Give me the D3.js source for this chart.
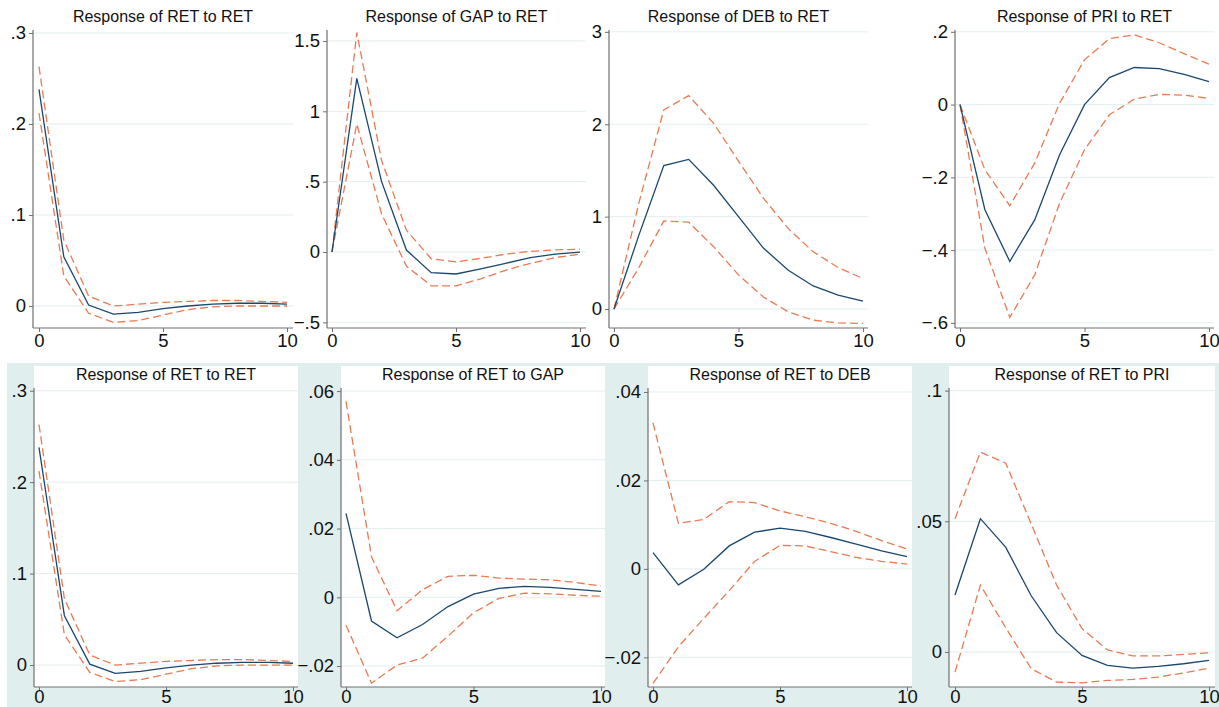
<!DOCTYPE html>
<html>
<head>
<meta charset="utf-8">
<script src="https://cdn.jsdelivr.net/npm/d3@7"></script>
<style>
  body { margin: 0; background: #fff; }
  text { font-family: "Liberation Sans", Arial, Helvetica, sans-serif; fill: #111; }
</style>
</head>
<body>
<svg id="chart"></svg>
<script>
var steps = [0, 1, 2, 3, 4, 5, 6, 7, 8, 9, 10];

// RET to RET
var irfRetRet = [0.238, 0.054, 0.001, -0.009, -0.007, -0.003, 0.000, 0.002, 0.003, 0.003, 0.002];
var hiRetRet  = [0.263, 0.0725, 0.011, 0.000, 0.002, 0.004, 0.005, 0.006, 0.006, 0.005, 0.004];
var loRetRet  = [0.212, 0.033, -0.008, -0.018, -0.016, -0.010, -0.004, -0.001, 0.000, 0.000, 0.000];

// GAP to RET
var irfGapRet = [0, 1.234, 0.50, 0.014, -0.147, -0.156, -0.12, -0.08, -0.04, -0.015, 0.0];
var hiGapRet  = [0, 1.56, 0.65, 0.155, -0.048, -0.07, -0.045, -0.015, 0.005, 0.015, 0.02];
var loGapRet  = [0, 0.91, 0.27, -0.10, -0.24, -0.24, -0.19, -0.13, -0.08, -0.04, -0.015];

// DEB to RET
var irfDebRet = [0, 0.80, 1.553, 1.62, 1.34, 1.00, 0.66, 0.42, 0.25, 0.15, 0.087];
var hiDebRet  = [0, 1.15, 2.156, 2.31, 2.01, 1.60, 1.20, 0.87, 0.62, 0.45, 0.33];
var loDebRet  = [0, 0.45, 0.953, 0.94, 0.675, 0.37, 0.13, -0.03, -0.12, -0.15, -0.155];

// PRI to RET
var irfPriRet = [0, -0.289, -0.431, -0.317, -0.138, 0.000, 0.074, 0.102, 0.099, 0.083, 0.063];
var hiPriRet  = [0, -0.179, -0.278, -0.161, 0.004, 0.123, 0.181, 0.192, 0.170, 0.140, 0.111];
var loPriRet  = [0, -0.395, -0.585, -0.468, -0.271, -0.124, -0.028, 0.015, 0.028, 0.026, 0.017];

// RET to GAP
var irfRetGap = [0.0244, -0.0069, -0.0118, -0.0079, -0.0027, 0.0009, 0.0026, 0.0032, 0.0029, 0.0023, 0.0017];
var hiRetGap  = [0.057, 0.0118, -0.0039, 0.0022, 0.0061, 0.0064, 0.0056, 0.0053, 0.0051, 0.0043, 0.0033];
var loRetGap  = [-0.0081, -0.025, -0.0197, -0.0177, -0.0113, -0.0045, -0.0003, 0.0012, 0.0010, 0.0006, 0.0003];

// RET to DEB
var irfRetDeb = [0.0037, -0.0036, -0.0001, 0.0052, 0.0083, 0.0092, 0.0085, 0.0071, 0.0056, 0.0041, 0.0028];
var hiRetDeb  = [0.033, 0.0103, 0.0112, 0.0152, 0.015, 0.0131, 0.0118, 0.0103, 0.0085, 0.0064, 0.0045];
var loRetDeb  = [-0.0259, -0.0176, -0.0112, -0.0049, 0.0017, 0.0053, 0.0052, 0.0039, 0.0026, 0.0017, 0.0011];

// RET to PRI
var irfRetPri = [0.0218, 0.051, 0.040, 0.0215, 0.0074, -0.0013, -0.0051, -0.0062, -0.0055, -0.0045, -0.0032];
var hiRetPri  = [0.051, 0.0765, 0.0722, 0.049, 0.0256, 0.009, 0.0008, -0.0015, -0.0015, -0.0009, -0.0003];
var loRetPri  = [-0.0077, 0.0256, 0.0092, -0.0064, -0.0115, -0.0118, -0.0109, -0.0105, -0.0096, -0.008, -0.0062];

var titles = ["Response of RET to RET", "Response of GAP to RET", "Response of DEB to RET", "Response of PRI to RET",
              "Response of RET to RET", "Response of RET to GAP", "Response of RET to DEB", "Response of RET to PRI"];

var xTicks = [0, 5, 10];
var yTicks = [
  [0, 0.1, 0.2, 0.3],
  [-0.5, 0, 0.5, 1, 1.5],
  [0, 1, 2, 3],
  [-0.6, -0.4, -0.2, 0, 0.2],
  [0, 0.1, 0.2, 0.3],
  [-0.02, 0, 0.02, 0.04, 0.06],
  [-0.02, 0, 0.02, 0.04],
  [0, 0.05, 0.1]
];
var yLabels = [
  ["0", ".1", ".2", ".3"],
  ["\u2212.5", "0", ".5", "1", "1.5"],
  ["0", "1", "2", "3"],
  ["\u2212.6", "\u2212.4", "\u2212.2", "0", ".2"],
  ["0", ".1", ".2", ".3"],
  ["\u2212.02", "0", ".02", ".04", ".06"],
  ["\u2212.02", "0", ".02", ".04"],
  ["0", ".05", ".1"]
];
var yExtent = [
  [-0.0242, 0.3033], [-0.54, 1.578], [-0.205, 3.02], [-0.614, 0.205],
  [-0.024, 0.303], [-0.0261, 0.0609], [-0.0267, 0.0409], [-0.0134, 0.101]
];

var irfs = [irfRetRet, irfGapRet, irfDebRet, irfPriRet, irfRetRet, irfRetGap, irfRetDeb, irfRetPri];
var his  = [hiRetRet, hiGapRet, hiDebRet, hiPriRet, hiRetRet, hiRetGap, hiRetDeb, hiRetPri];
var los  = [loRetRet, loGapRet, loDebRet, loPriRet, loRetRet, loRetGap, loRetDeb, loRetPri];

// layout of each plot region (pixels)
var layout = [
  {ax: 33,  x0: 39,  x10: 287,  right: 293,  top: 30,  bottom: 328, titleY: 22,  pad: 2},
  {ax: 327, x0: 332, x10: 580,  right: 586,  top: 30,  bottom: 328, titleY: 22,  pad: 2},
  {ax: 609, x0: 614, x10: 863,  right: 868,  top: 30,  bottom: 328, titleY: 22,  pad: 2},
  {ax: 955, x0: 960, x10: 1209, right: 1214, top: 30,  bottom: 328, titleY: 22,  pad: 2},
  {ax: 34,  x0: 39,  x10: 293,  right: 298,  top: 388, bottom: 687, titleY: 380, pad: -1},
  {ax: 341, x0: 346, x10: 601,  right: 605,  top: 388, bottom: 687, titleY: 380, pad: -1},
  {ax: 648, x0: 653, x10: 907,  right: 912,  top: 388, bottom: 687, titleY: 380, pad: -1},
  {ax: 949, x0: 955, x10: 1209, right: 1215, top: 388, bottom: 687, titleY: 380, pad: -1}
];

var W = 1219, H = 707;
var svg = d3.select('#chart').attr('width', W).attr('height', H);

// graph region of the lower row
svg.append('rect')
  .attr('x', 7).attr('y', 363).attr('width', W - 7).attr('height', H - 363)
  .attr('fill', '#e0eeee');

var gridColor = '#e2efef', axisColor = '#707070';
var irfColor = '#1a476f', ciColor = '#ea7a52';

layout.forEach(function(L, i) {
  var g = svg.append('g');
  var x = d3.scaleLinear().domain([0, 10]).range([L.x0, L.x10]);
  var y = d3.scaleLinear().domain(yExtent[i]).range([L.bottom, L.top]);

  if (i >= 4) {
    g.append('rect')
      .attr('x', L.ax).attr('y', 366)
      .attr('width', L.right - L.ax).attr('height', L.bottom - 366)
      .attr('fill', '#fff');
  }

  // grid
  g.selectAll('.grid').data(yTicks[i]).enter().append('line')
    .attr('x1', L.ax).attr('x2', L.right)
    .attr('y1', function(d){ return y(d); })
    .attr('y2', function(d){ return y(d); })
    .attr('stroke', gridColor).attr('stroke-width', 1);

  // title
  g.append('text')
    .attr('x', (L.ax + L.right) / 2).attr('y', L.titleY)
    .attr('text-anchor', 'middle').style('font-size', '16px')
    .text(titles[i]);

  // y axis
  var yAxis = d3.axisLeft(y).tickValues(yTicks[i]).tickSize(4).tickPadding(3)
    .tickFormat(function(d, k){ return yLabels[i][k]; });
  var ya = g.append('g').attr('transform', 'translate(' + L.ax + ',0)').call(yAxis);
  ya.select('.domain').attr('d', 'M0,' + L.top + 'V' + L.bottom);

  // x axis
  var xAxis = d3.axisBottom(x).tickValues(xTicks).tickSize(4).tickPadding(L.pad)
    .tickFormat(d3.format('d'));
  var xa = g.append('g').attr('transform', 'translate(0,' + L.bottom + ')').call(xAxis);
  xa.select('.domain').attr('d', 'M' + L.ax + ',0H' + L.right);

  [ya, xa].forEach(function(a) {
    a.select('.domain').attr('stroke', axisColor).attr('stroke-width', 1.2);
    a.selectAll('.tick line').attr('stroke', axisColor);
    a.selectAll('.tick text').style('font-size', '18.5px')
      .style('font-family', '"Liberation Sans", Arial, sans-serif').attr('fill', '#111');
  });

  var line = d3.line()
    .x(function(d, k){ return x(steps[k]); })
    .y(function(d){ return y(d); });

  g.append('path').datum(his[i]).attr('d', line)
    .attr('fill', 'none').attr('stroke', ciColor).attr('stroke-width', 1.3)
    .attr('stroke-dasharray', '8,4');
  g.append('path').datum(los[i]).attr('d', line)
    .attr('fill', 'none').attr('stroke', ciColor).attr('stroke-width', 1.3)
    .attr('stroke-dasharray', '8,4');
  g.append('path').datum(irfs[i]).attr('d', line)
    .attr('fill', 'none').attr('stroke', irfColor).attr('stroke-width', 1.3);
});
</script>
</body>
</html>
